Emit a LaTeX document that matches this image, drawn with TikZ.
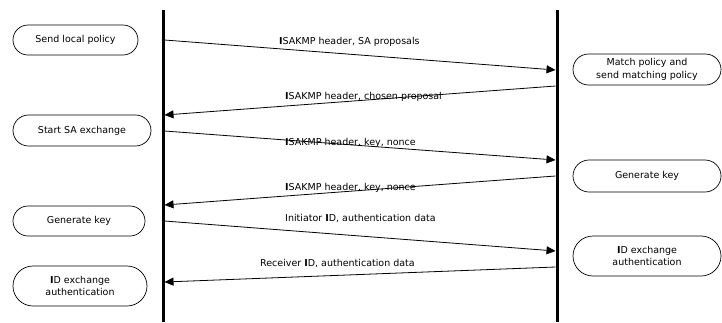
\documentclass[tikz,border=0pt]{standalone}
\usepackage{fontspec}
\setmainfont{DejaVu Sans}
\usetikzlibrary{shapes.misc,arrows.meta}
\newcommand{\bI}{\textbf{I}}
\tikzset{
  act/.style={draw, line width=0.7pt, rounded rectangle,
     align=center, inner sep=1pt, font=\fontsize{9.5}{12.6}\selectfont},
  life/.style={line width=3pt},
  msg/.style={line width=0.8pt, -{Triangle[length=9pt,width=8pt]}},
  lbl/.style={anchor=west, inner sep=0pt, font=\fontsize{9.5}{11}\selectfont}
}
\begin{document}
\begin{tikzpicture}[x=1pt,y=-1pt]
\useasboundingbox (0,0) rectangle (722,322);
% lifelines
\coordinate (Ltop) at (163,10); \coordinate (Lbot) at (163,322);
\coordinate (Rtop) at (557,10); \coordinate (Rbot) at (557,322);
\draw[life] (Ltop) -- (Lbot);
\draw[life] (Rtop) -- (Rbot);
% left activity nodes
\node[act, minimum width=127pt, minimum height=30pt] (a1) at (75.5,40) {Send local policy};
\node[act, minimum width=140pt, minimum height=31pt] (a2) at (82,130.5) {Start SA exchange};
\node[act, minimum width=134pt, minimum height=30pt] (a3) at (79,221) {Generate key};
\node[act, minimum width=136pt, minimum height=40pt] (a4) at (80,286) {\bI D exchange\\authentication};
% right activity nodes
\node[act, minimum width=150pt, minimum height=31pt] (b1) at (647,69.5) {Match policy and\\send matching policy};
\node[act, minimum width=150pt, minimum height=32pt] (b2) at (647,176) {Generate key};
\node[act, minimum width=150pt, minimum height=40pt] (b3) at (647,256) {\bI D exchange\\authentication};
% message endpoints
\coordinate (s1) at (164.5,40);  \coordinate (e1) at (555.5,70);
\coordinate (s2) at (555.5,86);  \coordinate (e2) at (164.5,115);
\coordinate (s3) at (164.5,131); \coordinate (e3) at (555.5,160);
\coordinate (s4) at (555.5,176); \coordinate (e4) at (164.5,205);
\coordinate (s5) at (164.5,221); \coordinate (e5) at (555.5,251);
\coordinate (s6) at (555.5,267); \coordinate (e6) at (164.5,282);
\draw[msg] (s1) -- (e1);
\draw[msg] (s2) -- (e2);
\draw[msg] (s3) -- (e3);
\draw[msg] (s4) -- (e4);
\draw[msg] (s5) -- (e5);
\draw[msg] (s6) -- (e6);
% labels
\node[lbl] (t1) at (279,41.5) {\bI SAKMP header, SA proposals};
\node[lbl] (t2) at (285,97) {\bI SAKMP header, chosen proposal};
\node[lbl] (t3) at (285,142.5) {\bI SAKMP header, key, nonce};
\node[lbl] (t4) at (285,187.5) {\bI SAKMP header, key, nonce};
\node[lbl] (t5) at (285,218) {Initiator \bI D, authentication data};
\node[lbl] (t6) at (260,263) {Receiver \bI D, authentication data};
\end{tikzpicture}
\end{document}
